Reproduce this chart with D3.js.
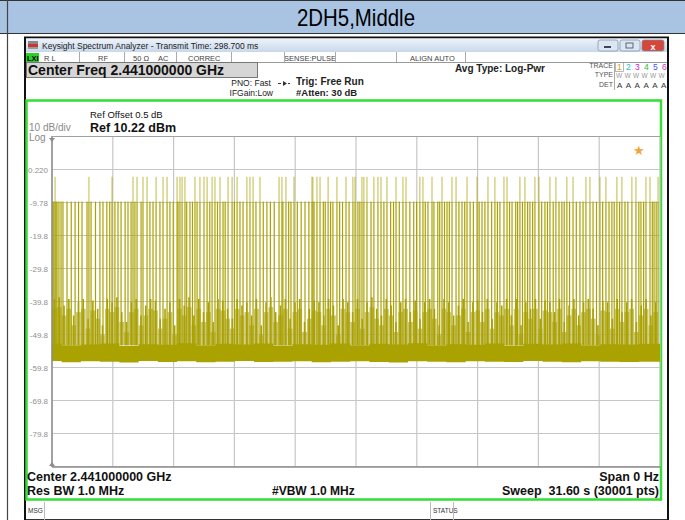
<!DOCTYPE html>
<html><head><meta charset="utf-8">
<script src="https://cdn.jsdelivr.net/npm/d3@7"></script>
<style>
body{margin:0;background:#fff}
svg{display:block}
text{font-family:"Liberation Sans",Arial,sans-serif}
</style></head>
<body><svg id="c" width="685" height="520"></svg>
<script>
// ---------------- data ----------------
const chartTitle = "2DH5,Middle";
const refLevel = 10.22;          // dBm, top of graticule
const dbPerDiv = 10;
const sweepSeconds = 31.6;       // x span (zero span, time domain)
const yTickValues = [0.22, -9.78, -19.78, -29.78, -39.78, -49.78, -59.78, -69.78, -79.78];
const yTickLabels = ["0.220", "-9.78", "-19.8", "-29.8", "-39.8", "-49.8", "-59.8", "-69.8", "-79.8"];

// burst spikes: time (s) and peak level (dBm)
const spikeTimes = [0.05,0.10,0.16,0.21,0.26,0.36,0.47,0.57,1.20,1.56,1.82,1.92,2.03,2.49,2.65,3.12,3.43,3.59,
 4.11,4.21,4.31,4.42,4.63,4.73,4.94,5.09,5.41,5.61,5.77,5.98,6.13,6.50,6.55,6.65,6.76,6.91,7.17,7.43,
 7.54,7.69,7.90,8.06,8.32,8.47,8.73,8.89,9.15,9.36,9.62,9.77,9.93,10.13,10.29,10.45,10.81,11.17,11.80,
 11.95,12.16,12.42,12.58,13.51,13.56,13.62,13.77,13.93,14.35,14.60,14.81,15.28,15.44,15.64,15.75,16.11,
 16.21,16.37,16.58,16.73,16.94,17.10,17.25,17.41,17.88,18.24,18.40,18.60,19.12,19.28,19.54,19.75,19.85,
 20.27,20.53,20.79,21.00,21.31,21.57,21.73,22.09,22.35,22.66,23.02,23.28,23.49,23.65,23.91,24.32,24.58,
 24.84,25.10,25.31,25.62,25.88,26.19,26.50,26.76,27.08,27.44,27.75,27.96,28.12,28.48,28.79,29.10,29.36,
 29.62,29.93,30.14,30.35,30.61,30.87,31.08,31.29,31.50,
 0.78,1.00,1.38,2.26,2.85,3.00,3.27,3.80,3.95,5.25,6.30,7.00,7.30,8.20,8.60,9.00,9.48,10.60,10.98,
 11.35,11.55,12.00,12.30,12.75,12.95,13.15,13.35,14.10,14.20,14.48,14.95,15.10,15.90,16.00,17.60,17.75,
 18.05,18.80,18.95,19.40,20.05,20.15,20.40,20.65,21.15,21.45,21.90,22.20,22.50,22.85,23.15,23.78,24.10,
 24.20,24.45,24.72,24.98,25.45,25.75,26.05,26.35,26.62,26.90,27.25,27.60,28.30,28.62,28.95,29.22,29.50,
 29.78,30.50,30.75,31.20,31.40];
const spikeLevels = [-9.5,-9.5,-2,-9.5,-9.5,-9.5,-9.5,-9.5,-9.5,-9.5,-9.5,-2,-9.5,-9.5,-9.5,-2,-9.5,-9.5,
 -9.5,-2,-9.5,-2,-9.5,-2,-2,-9.5,-2,-9.5,-2,-2,-9.5,-2,-9.5,-2,-2,-2,-9.5,-2,
 -9.5,-2,-2,-2,-2,-2,-2,-9.5,-2,-2,-2,-9.5,-9.5,-2,-2,-2,-2,-9.5,-2,
 -2,-2,-9.5,-2,-2,-2,-9.5,-2,-2,-2,-9.5,-2,-2,-9.5,-2,-2,-2,
 -2,-2,-9.5,-2,-2,-2,-9.5,-2,-2,-2,-2,-9.5,-2,-2,-9.5,-2,-9.5,
 -2,-9.5,-2,-2,-9.5,-2,-9.5,-2,-9.5,-2,-2,-9.5,-2,-2,-9.5,-2,-2,
 -9.5,-2,-2,-9.5,-2,-2,-9.5,-2,-2,-9.5,-2,-2,-9.5,-2,-2,-9.5,-2,
 -2,-9.5,-2,-2,-9.5,-2,-2,-9.5,-2,
 -9.5,-9.5,-9.5,-9.5,-9.5,-9.5,-9.5,-9.5,-9.5,-9.5,-9.5,-9.5,-9.5,-9.5,-9.5,-9.5,-9.5,-9.5,-9.5,
 -9.5,-9.5,-9.5,-9.5,-9.5,-9.5,-9.5,-9.5,-9.5,-9.5,-9.5,-9.5,-9.5,-9.5,-9.5,-9.5,-9.5,
 -9.5,-9.5,-9.5,-9.5,-9.5,-9.5,-9.5,-9.5,-9.5,-9.5,-9.5,-9.5,-9.5,-9.5,-9.5,-9.5,-9.5,
 -9.5,-9.5,-9.5,-9.5,-9.5,-9.5,-9.5,-9.5,-9.5,-9.5,-9.5,-9.5,-9.5,-9.5,-9.5,-9.5,-9.5,
 -9.5,-9.5,-9.5,-9.5,-9.5];

// upper envelope of the low-level burst clutter, one value per 0.25 s bin (dBm)
const clutterBinSeconds = 0.25;
const clutterLevels = [-39,-38.5,-41,-39,-44,-40,-39,-45,-39.5,-42,-47,-39,-40,-38.5,-43,-46,
 -40,-39,-44,-41,-39,-39.5,-45,-42,-40,-47,-39,-41,-38.5,-44,-39,-43,-40,-46,-39,-39.5,-42,-45,
 -39,-41,-40,-44,-39,-47,-40,-38.5,-43,-41,-39,-45,-40,-39,-46,-42,-39.5,-40,-44,-39,-41,-47,
 -39,-40,-43,-39,-45,-40,-38.5,-42,-44,-39,-41,-46,-40,-39,-43,-39.5,-45,-40,-39,-42,-47,-39,
 -40,-44,-41,-39,-46,-40,-39.5,-43,-39,-45,-40,-41,-39,-44,-39,-47,-40,-42,-39,-45,-39.5,-40,
 -43,-39,-46,-41,-39,-44,-40,-39,-42,-47,-39.5,-40,-45,-39,-43,-40,-39,-46,-41,-39,-44,-40];

// noise floor band, one value per 1 s bin (dBm)
const floorHigh = [-52.5,-53,-52.8,-52.5,-53.2,-52.7,-52.9,-52.4,-53,-52.6,-52.8,-52.5,-53.1,-52.7,
 -52.9,-52.5,-53,-52.6,-52.8,-52.4,-53,-52.7,-52.9,-52.5,-53.1,-52.6,-52.8,-52.5,-53,-52.7,-52.8,-52.6];
const floorLow = [-57.8,-58.2,-57.9,-58,-58.3,-57.8,-58.1,-57.9,-58.2,-58,-57.8,-58.1,-58,-57.9,
 -58.2,-58,-57.9,-58.1,-58.3,-57.9,-58,-58.2,-57.9,-58,-58.1,-57.8,-58,-58.2,-57.9,-58,-58.1,-58];

// ---------------- drawing ----------------
const svg = d3.select("#c");
const W = 685, H = 520;

// report table cell
svg.append("rect").attr("x",0).attr("y",0).attr("width",W).attr("height",33).attr("fill","#a9c3e3");
svg.append("line").attr("x1",0).attr("x2",W).attr("y1",33.5).attr("y2",33.5).attr("stroke","#333").attr("stroke-width",1.2);
svg.append("line").attr("x1",0).attr("x2",W).attr("y1",0.5).attr("y2",0.5).attr("stroke","#333");
svg.append("line").attr("x1",7.5).attr("x2",7.5).attr("y1",0).attr("y2",H).attr("stroke","#444").attr("stroke-width",1.2);
svg.append("text").attr("x",297).attr("y",26).attr("font-size",24)
  .attr("textLength",118).attr("lengthAdjust","spacingAndGlyphs").attr("fill","#000").text(chartTitle);

// screenshot frame
svg.append("rect").attr("x",25).attr("y",37.5).attr("width",643).attr("height",500)
  .attr("fill","#fff").attr("stroke","#111").attr("stroke-width",2);

// window title bar
const defs = svg.append("defs");
const grad = defs.append("linearGradient").attr("id","tb").attr("x1",0).attr("x2",0).attr("y1",0).attr("y2",1);
grad.append("stop").attr("offset",0).attr("stop-color","#eef3fa");
grad.append("stop").attr("offset",1).attr("stop-color","#c8d8ea");
svg.append("rect").attr("x",26).attr("y",38.5).attr("width",641).attr("height",13.5).attr("fill","url(#tb)");
svg.append("rect").attr("x",28).attr("y",41).attr("width",10).attr("height",3).attr("fill","#888");
svg.append("rect").attr("x",28).attr("y",44).attr("width",10).attr("height",3).attr("fill","#c33");
svg.append("rect").attr("x",28).attr("y",47).attr("width",10).attr("height",2).attr("fill","#999");
svg.append("text").attr("x",42).attr("y",48.5).attr("font-size",8.5).attr("fill","#222")
  .text("Keysight Spectrum Analyzer - Transmit Time: 298.700 ms");
[[598,20,"#dbe6f3"],[620,20,"#dbe6f3"],[642,22,"#d4473a"]].forEach(([x,w,c])=>{
  svg.append("rect").attr("x",x).attr("y",40).attr("width",w).attr("height",11).attr("rx",2)
    .attr("fill",c).attr("stroke","#7d8fa8").attr("stroke-width",0.7);
});
svg.append("rect").attr("x",604).attr("y",46).attr("width",7).attr("height",2).attr("fill","#445");
svg.append("rect").attr("x",626).attr("y",43).attr("width",7).attr("height",5).attr("fill","none").attr("stroke","#445").attr("stroke-width",0.8);
svg.append("text").attr("x",653).attr("y",49.5).attr("text-anchor","middle").attr("font-size",9).attr("font-weight","bold").attr("fill","#fff").text("x");

// status row
svg.append("rect").attr("x",26).attr("y",52).attr("width",641).attr("height",10).attr("fill","#fff");
svg.append("line").attr("x1",26).attr("x2",667).attr("y1",62.5).attr("y2",62.5).attr("stroke","#999");
svg.append("rect").attr("x",26).attr("y",53).attr("width",13).attr("height",9).attr("fill","#2bd12b");
svg.append("text").attr("x",27).attr("y",60.5).attr("font-size",7.5).attr("font-weight","bold").attr("fill","#000").text("LXI");
[[44,"R L"],[98,"RF"],[133,"50 Ω"],[158,"AC"],[188,"CORREC"],[284,"SENSE:PULSE"],[410,"ALIGN AUTO"]].forEach(([x,t])=>{
  svg.append("text").attr("x",x).attr("y",60.5).attr("font-size",7.5).attr("fill","#444").text(t);
});
[79,124,176,231,284,335,396,465].forEach(x=>{
  svg.append("line").attr("x1",x+.5).attr("x2",x+.5).attr("y1",52).attr("y2",62).attr("stroke","#aaa");
});

// settings panel
svg.append("rect").attr("x",26.5).attr("y",62.5).attr("width",231).attr("height",15)
  .attr("fill","#d6d6d6").attr("stroke","#777");
svg.append("text").attr("x",28).attr("y",75).attr("font-size",14).attr("font-weight","bold").attr("fill","#111")
  .text("Center Freq 2.441000000 GHz");
svg.append("text").attr("x",271).attr("y",86).attr("text-anchor","end").attr("font-size",8.5).attr("fill","#222").text("PNO: Fast");
svg.append("text").attr("x",273).attr("y",96).attr("text-anchor","end").attr("font-size",8.5).attr("fill","#222").text("IFGain:Low");
svg.append("line").attr("x1",278).attr("x2",290).attr("y1",83.5).attr("y2",83.5).attr("stroke","#333").attr("stroke-dasharray","3,2");
svg.append("path").attr("d","M283,81 L287,83.5 L283,86 Z").attr("fill","#333");
svg.append("text").attr("x",296).attr("y",85).attr("font-size",10).attr("font-weight","bold").attr("fill","#222").text("Trig: Free Run");
svg.append("text").attr("x",296).attr("y",96).attr("font-size",9.5).attr("font-weight","bold").attr("fill","#222").text("#Atten: 30 dB");
svg.append("text").attr("x",455).attr("y",72).attr("font-size",10).attr("font-weight","bold").attr("fill","#222").text("Avg Type: Log-Pwr");

// trace table
[["TRACE",68],["TYPE",77],["DET",87]].forEach(([t,y])=>{
  svg.append("text").attr("x",613).attr("y",y).attr("text-anchor","end").attr("font-size",7).attr("fill","#555").text(t);
});
svg.append("line").attr("x1",614.5).attr("x2",614.5).attr("y1",63).attr("y2",90).attr("stroke","#aaa");
svg.append("rect").attr("x",615.5).attr("y",62.5).attr("width",8).attr("height",9).attr("fill","none").attr("stroke","#999").attr("stroke-width",0.7);
const traceColors = ["#e0a000","#18c0d0","#d020c8","#30c030","#5050ff","#d040b0"];
traceColors.forEach((c,i)=>{
  svg.append("text").attr("x",617+i*9).attr("y",70).attr("font-size",8.5).attr("fill",c).text(String(i+1));
  svg.append("text").attr("x",616+i*8.5).attr("y",78).attr("font-size",6.5).attr("fill","#999").text("W");
  svg.append("text").attr("x",617+i*8.8).attr("y",88).attr("font-size",8).attr("fill","#333").text("A");
});

// green display border
svg.append("rect").attr("x",26.5).attr("y",100.5).attr("width",634.5).attr("height",399)
  .attr("fill","none").attr("stroke","#35dd35").attr("stroke-width",2.5);

svg.append("text").attr("x",90).attr("y",117.5).attr("font-size",9.5).attr("fill","#111").text("Ref Offset 0.5 dB");
svg.append("text").attr("x",90).attr("y",131.5).attr("font-size",12.5).attr("font-weight","bold").attr("fill","#111").text("Ref 10.22 dBm");
svg.append("text").attr("x",29).attr("y",131).attr("font-size",10).attr("fill","#8a8a8a").text("10 dB/div");
svg.append("text").attr("x",29).attr("y",141).attr("font-size",10).attr("fill","#8a8a8a").text("Log");

// scales
const x = d3.scaleLinear().domain([0, sweepSeconds]).range([52, 660]);
const y = d3.scaleLinear().domain([refLevel - 10*dbPerDiv, refLevel]).range([466.5, 136.5]);

// graticule
const g = svg.append("g");
d3.range(0, 11).forEach(i=>{
  const gx = x(i*sweepSeconds/10);
  g.append("line").attr("x1",gx).attr("x2",gx).attr("y1",y.range()[1]).attr("y2",y.range()[0])
    .attr("stroke","#c6c6c6").attr("stroke-width",1.2);
  const gy = y(refLevel - i*dbPerDiv);
  g.append("line").attr("x1",52).attr("x2",660).attr("y1",gy).attr("y2",gy)
    .attr("stroke","#c6c6c6").attr("stroke-width",1.2);
});

// trace
svg.append("clipPath").attr("id","plot").append("rect").attr("x",52).attr("y",136).attr("width",608).attr("height",331);
const tr = svg.append("g").attr("clip-path","url(#plot)");
const traceColor = "#aaa200";

// clutter
const clutterBins = clutterLevels.map((v,i)=>({t:(i+0.5)*clutterBinSeconds, v}));
tr.selectAll("rect.clb").data(clutterBins).join("rect").attr("class","clb")
  .attr("x",d=>x(d.t-clutterBinSeconds/2)).attr("width",x(clutterBinSeconds)-x(0))
  .attr("y",d=>y(d.v-3)).attr("height",d=>y(-53)-y(d.v-3))
  .attr("fill","#bdb650").attr("opacity",0.8);
tr.selectAll("line.cl").data(clutterBins).join("line").attr("class","cl")
  .attr("x1",d=>x(d.t)).attr("x2",d=>x(d.t)).attr("y1",y(-53)).attr("y2",d=>y(d.v))
  .attr("stroke",traceColor).attr("stroke-width",1.6);

// floor band
const floorPts = floorHigh.map((v,i)=>({t: Math.min(i, sweepSeconds), hi:v, lo:floorLow[i]}));
floorPts.push({t:sweepSeconds, hi:floorHigh[floorHigh.length-1], lo:floorLow[floorLow.length-1]});
tr.append("path").datum(floorPts)
  .attr("d", d3.area().x(d=>x(d.t)).y0(d=>y(d.lo)).y1(d=>y(d.hi)).curve(d3.curveStep))
  .attr("fill",traceColor);

// bursts
const spikes = spikeTimes.map((t,i)=>({t, v:spikeLevels[i]}));
tr.selectAll("line.sp").data(spikes).join("line").attr("class","sp")
  .attr("x1",d=>x(d.t)).attr("x2",d=>x(d.t)).attr("y1",y(-53)).attr("y2",d=>y(Math.min(d.v,-9.5)))
  .attr("stroke",traceColor).attr("stroke-width",1.2);
tr.selectAll("line.tip").data(spikes.filter(d=>d.v>-9.5)).join("line").attr("class","tip")
  .attr("x1",d=>x(d.t)).attr("x2",d=>x(d.t)).attr("y1",y(-9.5)).attr("y2",d=>y(d.v))
  .attr("stroke",traceColor).attr("stroke-width",0.9).attr("opacity",0.8);

// axes
const yAxis = d3.axisLeft(y).tickValues(yTickValues).tickSize(0).tickPadding(4)
  .tickFormat((d,i)=>yTickLabels[i]);
const ya = svg.append("g").attr("transform","translate(52,0)").call(yAxis);
ya.select(".domain").remove();
ya.selectAll("text").attr("font-size",8).attr("fill","#8f8f8f").attr("font-family","Liberation Sans, Arial, sans-serif");

svg.append("line").attr("x1",52).attr("x2",52).attr("y1",136).attr("y2",467).attr("stroke","#8c8c8c").attr("stroke-width",1.5);
svg.append("line").attr("x1",52).attr("x2",660).attr("y1",467).attr("y2",467).attr("stroke","#8c8c8c").attr("stroke-width",1.5);
svg.append("line").attr("x1",52).attr("x2",660).attr("y1",136.5).attr("y2",136.5).attr("stroke","#a0a0a0").attr("stroke-width",1);
svg.append("path").attr("d","M49,138 L55,138 L52,142 Z").attr("fill","#8c8c8c");
svg.append("path").attr("d","M49,466 L55,466 L52,462 Z").attr("fill","#8c8c8c");

// marker star
svg.append("text").attr("x",639).attr("y",155).attr("text-anchor","middle").attr("font-size",13)
  .attr("font-family","DejaVu Sans").attr("fill","#f2a33a").text("★");

// footer
svg.append("text").attr("x",27).attr("y",481).attr("font-size",12.5).attr("font-weight","bold").attr("fill","#111").text("Center 2.441000000 GHz");
svg.append("text").attr("x",27).attr("y",495).attr("font-size",12.5).attr("font-weight","bold").attr("fill","#111").text("Res BW 1.0 MHz");
svg.append("text").attr("x",272).attr("y",495).attr("font-size",12).attr("font-weight","bold").attr("fill","#111").text("#VBW 1.0 MHz");
svg.append("text").attr("x",659).attr("y",481).attr("text-anchor","end").attr("font-size",12.5).attr("font-weight","bold").attr("fill","#111").text("Span 0 Hz");
svg.append("text").attr("x",659).attr("y",495).attr("text-anchor","end").attr("font-size",12.5).attr("font-weight","bold").attr("fill","#111").text("Sweep\u00a0\u00a031.60 s (30001 pts)");

// message row
svg.append("line").attr("x1",26).attr("x2",667).attr("y1",519.5).attr("y2",519.5).attr("stroke","#333");
svg.append("text").attr("x",28).attr("y",513).attr("font-size",6.5).attr("fill","#333").text("MSG");
svg.append("text").attr("x",433).attr("y",513).attr("font-size",6.5).attr("fill","#333").text("STATUS");
[44,430,453].forEach(xx=>{
  svg.append("line").attr("x1",xx+.5).attr("x2",xx+.5).attr("y1",502).attr("y2",520).attr("stroke","#bbb");
});
</script></body></html>
